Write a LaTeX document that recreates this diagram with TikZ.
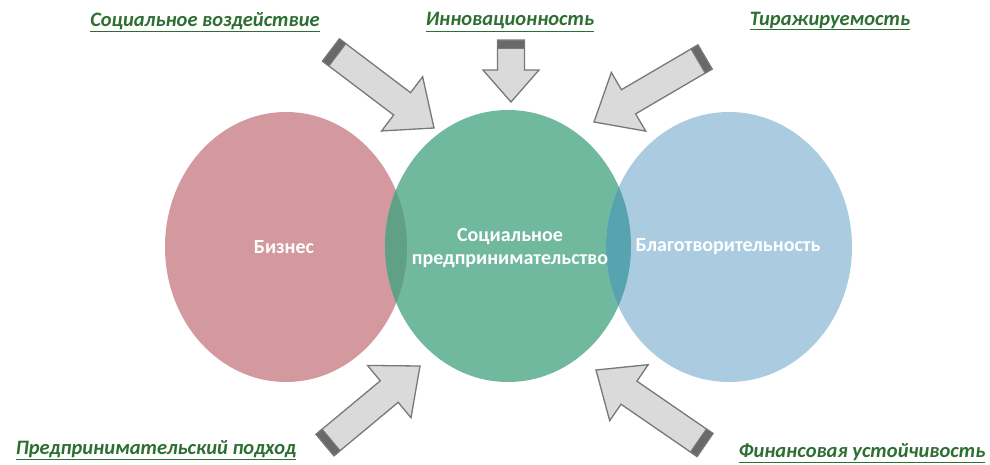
\documentclass[tikz,border=0pt]{standalone}
\usepackage{fontspec}
\setmainfont{Carlito}
\usetikzlibrary{calc}
\definecolor{redc}{RGB}{212,153,159}
\definecolor{greenc}{RGB}{112,184,158}
\definecolor{bluec}{RGB}{171,204,224}
\definecolor{ovrg}{RGB}{96,160,134}
\definecolor{ovgb}{RGB}{88,163,176}
\definecolor{labc}{RGB}{45,110,50}
\definecolor{arrfill}{RGB}{218,218,218}
\definecolor{arrline}{RGB}{120,120,120}
\definecolor{bandc}{RGB}{105,105,105}
\tikzset{
  arrowbody/.style={fill=arrfill, draw=arrline, line width=1.3pt, line join=miter},
  bandstyle/.style={fill=bandc, draw=arrline, line width=1pt},
  toplabel/.style={text=labc, font=\bfseries\itshape\fontsize{20.5}{24}\selectfont, inner sep=1pt},
  inlabel/.style={text=white, font=\bfseries\fontsize{20}{23}\selectfont, align=center},
}
\newcommand\blkarrow[6]{%
  \coordinate (#1T) at #2;
  \coordinate (#1H) at #3;
  \coordinate (#1S) at ($(#1H)!#6!(#1T)$);
  \coordinate (#1B) at ($(#1T)!8pt!(#1H)$);
  \draw[arrowbody] ($(#1T)!#4!90:(#1H)$) -- ($(#1S)!#4!90:(#1H)$) -- ($(#1S)!#5!90:(#1H)$) -- (#1H)
     -- ($(#1S)!#5!-90:(#1H)$) -- ($(#1S)!#4!-90:(#1H)$) -- ($(#1T)!#4!-90:(#1H)$) -- cycle;
  \draw[bandstyle] ($(#1T)!#4!90:(#1H)$) -- ($(#1B)!#4!90:(#1H)$) -- ($(#1B)!#4!-90:(#1H)$) -- ($(#1T)!#4!-90:(#1H)$) -- cycle;
}
\begin{document}
\begin{tikzpicture}[x=1pt,y=-1pt]
\useasboundingbox[fill=white] (0,0) rectangle (990,464);
% circles
\fill[redc] (286,247) ellipse [x radius=121, y radius=135];
\fill[greenc] (508,246) ellipse [x radius=123, y radius=136];
\fill[bluec] (729,247) ellipse [x radius=123, y radius=135];
\begin{scope}
  \clip (508,246) ellipse [x radius=123, y radius=136];
  \fill[ovrg] (286,247) ellipse [x radius=121, y radius=135];
  \fill[ovgb] (729,247) ellipse [x radius=123, y radius=135];
\end{scope}
% circle labels
\node[inlabel] (biz) at (284,247) {Бизнес};
\node[inlabel] (soc) at (510,248) {Социальное\\предпринимательство};
\node[inlabel] (char) at (728,247) {Благотворительность};
% top/bottom labels
\node[toplabel] (l1) at (205,22) {\underline{Социальное воздействие}};
\node[toplabel] (l2) at (510,22) {\underline{Инновационность}};
\node[toplabel] (l3) at (830,21) {\underline{Тиражируемость}};
\node[toplabel] (l4) at (156,450) {\underline{Предпринимательский подход}};
\node[toplabel] (l5) at (862,453) {\underline{Финансовая устойчивость}};
% arrows
\blkarrow{a}{(331,50)}{(434,128)}{14pt}{34pt}{40pt}
\blkarrow{b}{(511,40)}{(511,102)}{13.5pt}{28pt}{32pt}
\blkarrow{c}{(705,57)}{(594,122)}{14pt}{34pt}{40pt}
\blkarrow{d}{(325,445)}{(420,366)}{14pt}{34pt}{40pt}
\blkarrow{e}{(705,445)}{(596,370)}{14pt}{34pt}{40pt}
\end{tikzpicture}
\end{document}
